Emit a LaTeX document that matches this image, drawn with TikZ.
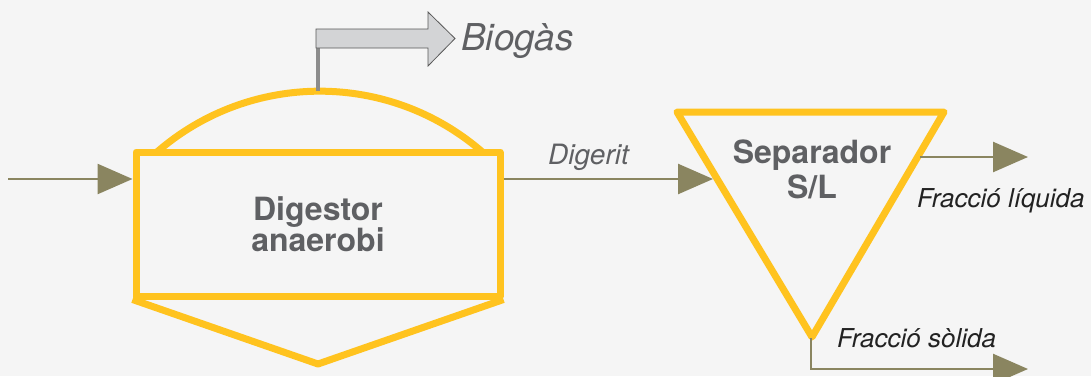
\documentclass[tikz,border=0pt]{standalone}
\usepackage{fontspec}
\setmainfont{TeX Gyre Heros}
\usepackage{tikz}
\usetikzlibrary{arrows.meta,calc}
\definecolor{fons}{HTML}{F5F5F5}
\definecolor{groc}{HTML}{FFC31F}
\definecolor{oliva}{HTML}{8A8560}
\definecolor{grisText}{HTML}{5F6063}
\definecolor{grisTub}{HTML}{8C8C8C}
\definecolor{grisFletxa}{HTML}{D3D4D6}
\definecolor{negreText}{HTML}{222222}
\begin{document}
\begin{tikzpicture}[x=1pt,y=1pt,
  tank/.style={draw=groc,line width=7,line join=round},
  flow/.style={draw=oliva,line width=2.5,-{Triangle[length=35pt,width=30pt]}},
  titol/.style={text=grisText,font=\bfseries\fontsize{32}{31}\selectfont,align=center},
  etiq/.style={text=grisText,font=\itshape\fontsize{28}{30}\selectfont,anchor=base west,inner sep=0},
  fraccio/.style={text=negreText,font=\itshape\fontsize{26}{28}\selectfont,anchor=base west,inner sep=0}]
\fill[fons] (0,0) rectangle (1091,376);
\useasboundingbox (0,0) rectangle (1091,376);
% digestor
\node[tank,minimum width=364,minimum height=144,titol] (dig) at (318,152) {Digestor\\anaerobi};
\draw[tank] (157,224) arc[start angle=131,end angle=49,radius=248];
\draw[tank] (dig.south west) -- (318,12) -- (dig.south east);
% biogas
\coordinate (cim) at (318,285);
\coordinate (gas) at (318,328);
\draw[grisTub,line width=4] (cim) -- (gas);
\draw[fill=grisFletxa,draw=black!65,line width=0.8] (316,328) -- (316,347) -- (428,347) -- (428,364)
  -- (455,337.5) -- (428,310) -- (428,328) -- cycle;
\node[etiq,font=\itshape\fontsize{37}{40}\selectfont] (bio) at (461,326) {Biogàs};
% entrada
\coordinate (in) at (8,197);
\draw[flow] (in) -- (in -| dig.west);
% separador
\draw[tank] (677,264) -- (944,264) -- (812,39) -- cycle;
\node[titol,font=\bfseries\fontsize{32}{35}\selectfont] (sep) at (812,207) {Separador\\S/L};
\coordinate (sepIn) at (713,197);
\coordinate (sepLiq) at (920,219);
\coordinate (sepSol) at (811,38);
\coordinate (liq) at (1028,219);
\coordinate (sol) at (1028,7);
\draw[flow] (in -| dig.east) -- (sepIn);
\node[etiq] (dgt) at (548,212) {Digerit};
\draw[flow] (sepLiq) -- (liq);
\node[fraccio] (fliq) at (917,169) {Fracció líquida};
\draw[flow] (sepSol) |- (sol);
\node[fraccio] (fsol) at (837,29) {Fracció sòlida};
\end{tikzpicture}
\end{document}
